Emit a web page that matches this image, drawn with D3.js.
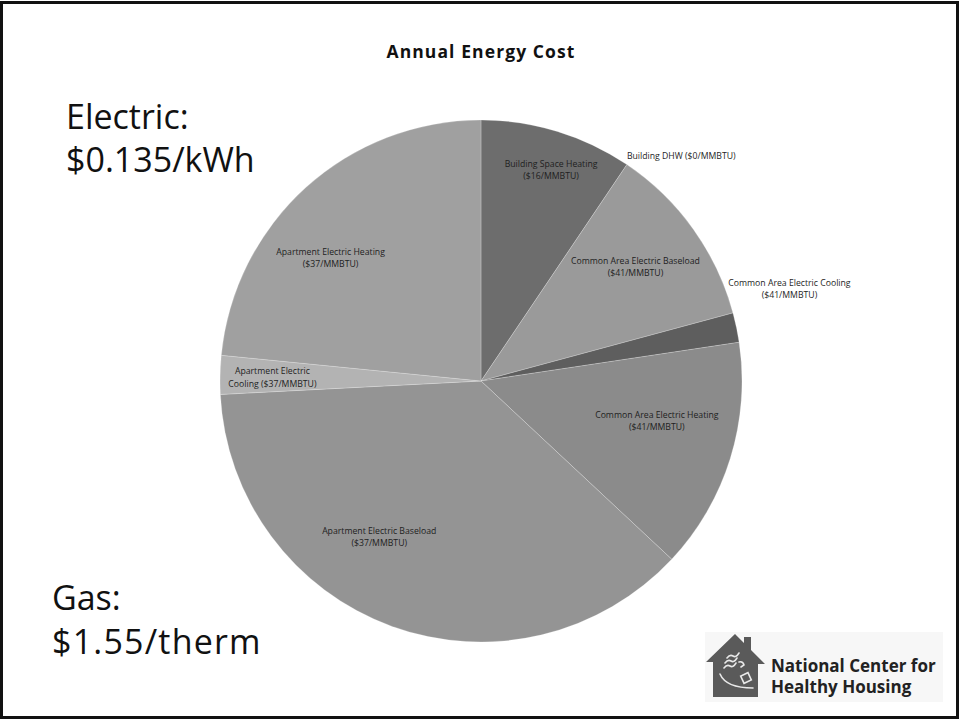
<!DOCTYPE html>
<html>
<head>
<meta charset="utf-8">
<script src="https://cdn.jsdelivr.net/npm/d3@7/dist/d3.min.js"></script>
<style>
  html, body { margin: 0; padding: 0; background: #fff; }
  svg { display: block; }
  text { font-family: "Open Sans", "Noto Sans", sans-serif; }
</style>
</head>
<body>
<svg id="chart" width="959" height="719"></svg>
<script>
// Annual energy cost by end use (share of total, %), clockwise from 12 o'clock
const categories = [
  "Building Space Heating",
  "Building DHW",
  "Common Area Electric Baseload",
  "Common Area Electric Cooling",
  "Common Area Electric Heating",
  "Apartment Electric Baseload",
  "Apartment Electric Cooling",
  "Apartment Electric Heating"
];
const costShare = [9.44, 0, 11.36, 1.83, 14.33, 37.22, 2.39, 23.43];
const unitPrice = [16, 0, 41, 41, 41, 37, 37, 37]; // $/MMBTU
const sliceColors = ["#6d6d6d", "#7a7a7a", "#9a9a9a", "#5e5e5e", "#8b8b8b", "#949494", "#b3b3b3", "#a0a0a0"];

const svg = d3.select("#chart");
const W = 959, H = 719;
const cx = 481, cy = 381, R = 261;

// slide frame
svg.append("rect")
  .attr("x", 1.5).attr("y", 2.5).attr("width", W - 3).attr("height", H - 4)
  .attr("fill", "#fff").attr("stroke", "#111").attr("stroke-width", 3);

// title
svg.append("text")
  .attr("x", 481).attr("y", 58).attr("text-anchor", "middle")
  .attr("font-size", 17.5).attr("font-weight", "bold").attr("letter-spacing", 1.1).attr("fill", "#111")
  .text("Annual Energy Cost");

const data = categories.map((c, i) => ({ name: c, value: costShare[i], price: unitPrice[i], color: sliceColors[i] }));

const pie = d3.pie().value(d => d.value).sort(null).startAngle(0).endAngle(2 * Math.PI);
const arcs = pie(data);
const arc = d3.arc().innerRadius(0).outerRadius(R);

const g = svg.append("g").attr("transform", `translate(${cx},${cy})`);

g.selectAll("path.slice")
  .data(arcs.filter(a => a.data.value > 0))
  .join("path")
  .attr("class", "slice")
  .attr("d", arc)
  .attr("fill", d => d.data.color)
  .attr("stroke", "rgba(255,255,255,0.22)")
  .attr("stroke-width", 1);

// label placement: radius fraction, angle offset (deg) from slice mid, pixel nudges
const labelLayout = {
  "Building Space Heating":        { r: 0.855, da: 1.3, dy: -1 },
  "Building DHW":                  { r: 1.0,  da: 0, dx: 0, dy: -6, anchor: "start", oneLine: true },
  "Common Area Electric Baseload": { r: 0.735, da: -0.8, dy: -2 },
  "Common Area Electric Cooling":  { r: 1.0,  da: 0, dx: 53, dy: -40 },
  "Common Area Electric Heating":  { r: 0.69, da: -4.8, dy: -1 },
  "Apartment Electric Baseload":   { r: 0.713, da: 13.1, dy: -1.5 },
  "Apartment Electric Cooling":    { r: 0.815, da: 0.6, dx: 4, dy: 2, split: ["Apartment Electric", "Cooling ($37/MMBTU)"] },
  "Apartment Electric Heating":    { r: 0.745, da: -8.5, dy: -1.5 }
};

const labels = g.append("g").attr("font-size", 8.7).attr("fill", "#1e1e1e");
arcs.forEach(a => {
  const L = labelLayout[a.data.name];
  const mid = (a.startAngle + a.endAngle) / 2 + L.da * Math.PI / 180;
  const rr = R * L.r;
  const x = rr * Math.sin(mid) + (L.dx || 0);
  const y = -rr * Math.cos(mid) + (L.dy || 0);
  const priceTxt = `($${a.data.price}/MMBTU)`;
  const t = labels.append("text")
    .attr("x", x).attr("y", y)
    .attr("text-anchor", L.anchor || "middle");
  if (L.oneLine) {
    t.append("tspan").attr("x", x).attr("dy", 0).text(`${a.data.name} ${priceTxt}`);
  } else {
    const lines = L.split || [a.data.name, priceTxt];
    t.append("tspan").attr("x", x).attr("dy", "-0.15em").text(lines[0]);
    t.append("tspan").attr("x", x).attr("dy", "1.4em").text(lines[1]);
  }
});

// rate annotations
const elec = svg.append("g").attr("font-size", 34).attr("fill", "#111");
elec.append("text").attr("x", 66).attr("y", 129).text("Electric:");
elec.append("text").attr("x", 66).attr("y", 172).text("$0.135/kWh");
const gas = svg.append("g").attr("font-size", 34).attr("fill", "#111");
gas.append("text").attr("x", 52).attr("y", 610).text("Gas:");
gas.append("text").attr("x", 52).attr("y", 654).attr("letter-spacing", 1.2).text("$1.55/therm");

// organisation logo
const logo = svg.append("g").attr("transform", "translate(705,632)");
logo.append("rect").attr("x", 0).attr("y", 0).attr("width", 238).attr("height", 70).attr("fill", "#f7f7f7");
logo.append("path")
  .attr("d", "M1,30 L30,2 L39,11 L39,5 L46,5 L46,18 L60,32 L53,32 L53,65 L8,65 L8,30 Z")
  .attr("fill", "#5a5a5a");
// white linework inside the house
const lw = logo.append("g").attr("fill", "none").attr("stroke", "#e8e8e8").attr("stroke-width", 1.6).attr("stroke-linecap", "round");
lw.append("path").attr("d", "M22,26 q3,-4 6,-2 q3,2 6,-3");
lw.append("path").attr("d", "M20,31 q3,-4 6,-2 q3,2 6,-3");
lw.append("path").attr("d", "M19,36 q3,-4 6,-2 q3,2 6,-3");
lw.append("path").attr("d", "M34,30 q4,-1 5,3 l-3,2");
lw.append("path").attr("d", "M15,42 q6,14 33,14");
lw.append("rect").attr("x", 37).attr("y", 42).attr("width", 8).attr("height", 8).attr("transform", "rotate(-25 41 46)");
logo.append("text").attr("x", 66).attr("y", 40).attr("font-size", 17).attr("font-weight", "bold").attr("fill", "#222")
  .text("National Center for");
logo.append("text").attr("x", 66).attr("y", 61).attr("font-size", 17).attr("font-weight", "bold").attr("fill", "#222")
  .text("Healthy Housing");
</script>
</body>
</html>
